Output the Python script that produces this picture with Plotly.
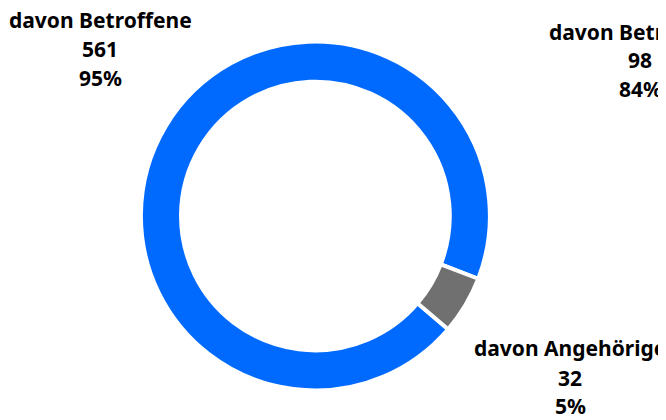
import plotly.graph_objects as go

W, H = 666, 420
OFF = 8  # page body margin

categories = ["davon Betroffene", "davon Angehörige"]
values = [561, 32]
percents = ["95%", "5%"]
colors = ["#006AFF", "#707070"]

# second (off-screen) chart label
other_label = "davon Betroffene"
other_value = 98
other_percent = "84%"

cx, cy, R = 315.4 - OFF, 216 - OFF, 174.5

fig = go.Figure()
fig.add_trace(go.Pie(
    labels=categories,
    values=values,
    hole=0.77,
    sort=False,
    direction="clockwise",
    rotation=130.5,
    marker=dict(colors=colors, line=dict(color="white", width=4)),
    textinfo="none",
    hoverinfo="label+value+percent",
    showlegend=False,
    domain=dict(x=[(cx - R) / W, (cx + R) / W],
                y=[1 - (cy + R) / H, 1 - (cy - R) / H]),
))

font = dict(family="Noto Sans, sans-serif", size=21, color="#000000")


def add_label(x, ys, lines):
    for y, t in zip(ys, lines):
        fig.add_annotation(x=(x - OFF) / W, y=1 - (y - OFF) / H,
                           xref="paper", yref="paper",
                           text="<b>%s</b>" % t, showarrow=False,
                           xanchor="center", yanchor="middle", font=font)


add_label(100, [20, 49, 78], [categories[0], str(values[0]), percents[0]])
add_label(570, [348, 378, 406], [categories[1], str(values[1]), percents[1]])
add_label(640, [32, 60, 89], [other_label, str(other_value), other_percent])

fig.update_layout(width=W, height=H, margin=dict(l=0, r=0, t=0, b=0),
                  paper_bgcolor="white", plot_bgcolor="white")
fig.write_html("out.html")
